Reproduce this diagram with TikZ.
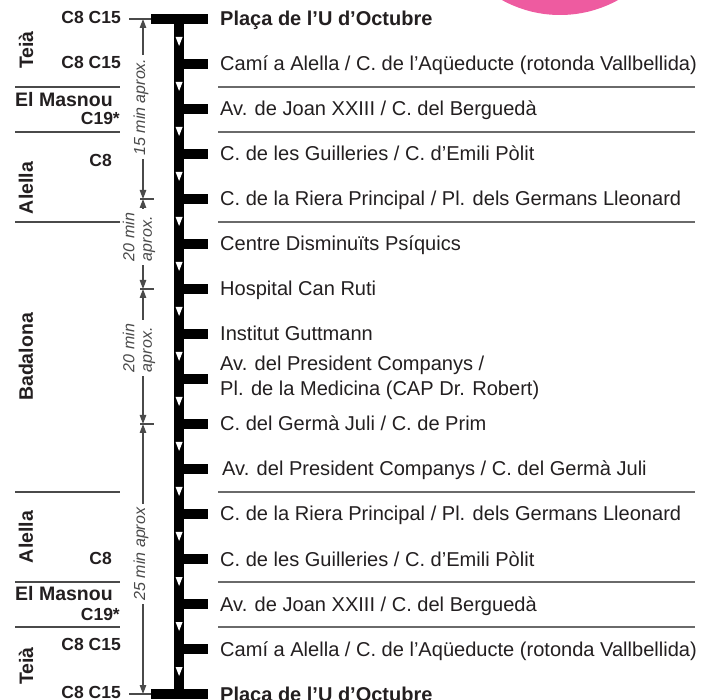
\documentclass[tikz,border=0pt]{standalone}
\usepackage{fontspec}
\setmainfont{Liberation Sans}
\usetikzlibrary{arrows.meta}
\definecolor{badgepink}{HTML}{EE5BA0}
\definecolor{txt}{HTML}{231F20}
\definecolor{sepgray}{HTML}{6A6A6A}
\definecolor{dimgray}{HTML}{4A4A4A}
\tikzset{
  stoplbl/.style={anchor=base west, inner sep=0pt, text=txt, font=\fontsize{20.05}{25}\selectfont},
  stopbold/.style={stoplbl, font=\bfseries\fontsize{20}{25}\selectfont},
  townlbl/.style={rotate=90, inner sep=0pt, text=txt, font=\bfseries\fontsize{19.5}{24}\selectfont},
  masnoulbl/.style={anchor=west, inner sep=0pt, text=txt, font=\bfseries\fontsize{19.5}{24}\selectfont},
  linelbl/.style={anchor=east, inner sep=0pt, text=txt, font=\bfseries\fontsize{17.5}{20}\selectfont},
  durlbl/.style={rotate=90, fill=white, inner xsep=4pt, inner ysep=0.5pt, align=left, text=dimgray, font=\itshape\fontsize{16}{17.5}\selectfont},
  rsep/.style={draw=sepgray, line width=1.6pt},
  lsep/.style={draw=dimgray, line width=1.2pt},
  dimline/.style={draw=dimgray, line width=1.1pt, {Triangle[width=6.5pt,length=9pt]}-{Triangle[width=6.5pt,length=9pt]}},
  tickline/.style={draw=dimgray, line width=1.1pt},
  spineline/.style={draw=black, line width=10pt},
  dirmark/.style={fill=white, draw=none}
}
\begin{document}
\begin{tikzpicture}[x=1pt, y=-1pt]
\useasboundingbox (0,0) rectangle (702,700);

% pink badge
\fill[badgepink] (560,-105) circle (120);

% spine and stops
\foreach \i in {0,...,15} {
  \coordinate (s\i) at (179,{19+45*\i});
  \coordinate (e\i) at (208,{19+45*\i});
}
\coordinate (tl) at (151,19);
\coordinate (bl) at (151,694);
\draw[spineline] (tl) -- (e0);
\draw[spineline] (bl) -- (e15);
\draw[spineline] ([yshift=5pt]s0) -- ([yshift=-5pt]s15);
\foreach \i in {1,...,14} { \draw[spineline] (s\i) -- (e\i); }

% direction marks
\foreach \i in {0,...,14} {
  \pgfmathsetmacro{\ym}{19+45*\i+22.5}
  \fill[dirmark] (175.6,\ym-4.5) -- (182.6,\ym-4.5) -- (179.1,\ym+4.5) -- cycle;
}

% separators
\foreach \y in {87,132,222,492,582,627} {
  \draw[rsep] (218,\y) -- (695,\y);
  \draw[lsep] (15,\y) -- (120,\y);
}

% stop labels
\node[stopbold] (t0) at (220,26) {Plaça de l’U d’Octubre};
\node[stoplbl] (t1) at (220,71) {Camí a Alella / C. de l’Aqüeducte (rotonda Vallbellida)};
\node[stoplbl] (t2) at (220,116) {Av. de Joan XXIII / C. del Berguedà};
\node[stoplbl] (t3) at (220,161) {C. de les Guilleries / C. d’Emili Pòlit};
\node[stoplbl] (t4) at (220,206) {C. de la Riera Principal / Pl. dels Germans Lleonard};
\node[stoplbl] (t5) at (220,251) {Centre Disminuïts Psíquics};
\node[stoplbl] (t6) at (220,296) {Hospital Can Ruti};
\node[stoplbl] (t7) at (220,341) {Institut Guttmann};
\node[anchor=west, inner sep=0pt, text=txt, align=left, font=\fontsize{20.05}{25}\selectfont] (t8) at (220,378) {Av. del President Companys /\\Pl. de la Medicina (CAP Dr. Robert)};
\node[stoplbl] (t9) at (220,431) {C. del Germà Juli / C. de Prim};
\node[stoplbl] (t10) at (222,476) {Av. del President Companys / C. del Germà Juli};
\node[stoplbl] (t11) at (220,521) {C. de la Riera Principal / Pl. dels Germans Lleonard};
\node[stoplbl] (t12) at (220,566) {C. de les Guilleries / C. d’Emili Pòlit};
\node[stoplbl] (t13) at (220,611) {Av. de Joan XXIII / C. del Berguedà};
\node[stoplbl] (t14) at (220,656) {Camí a Alella / C. de l’Aqüeducte (rotonda Vallbellida)};
\node[stopbold] (t15) at (220,701) {Plaça de l’U d’Octubre};

% left: towns
\node[townlbl] (teia1) at (26,50) {Teià};
\node[masnoulbl] (mas1) at (15,100) {El Masnou};
\node[townlbl] (ale1) at (26,188) {Alella};
\node[townlbl] (bad) at (26,357) {Badalona};
\node[townlbl] (ale2) at (26,537) {Alella};
\node[masnoulbl] (mas2) at (15,594) {El Masnou};
\node[townlbl] (teia2) at (26,666) {Teià};

% left: lines
\node[linelbl] (l1) at (121,17.5) {C8 C15};
\node[linelbl] (l2) at (121,62.5) {C8 C15};
\node[linelbl] (l3) at (120,118) {C19*};
\node[linelbl] (l4) at (112,160) {C8};
\node[linelbl] (l5) at (112,558) {C8};
\node[linelbl] (l6) at (120,614) {C19*};
\node[linelbl] (l7) at (121,644) {C8 C15};
\node[linelbl] (l8) at (121,692) {C8 C15};

% durations
\coordinate (d0) at (143,19);
\coordinate (d1) at (143,199);
\coordinate (d2) at (143,289);
\coordinate (d3) at (143,424);
\coordinate (d4) at (143,694);
\coordinate (x0) at (129,19);
\coordinate (x4) at (129,694);
\draw[tickline] (x0) -- (tl);
\draw[tickline] (x4) -- (bl);
\foreach \k in {1,2,3} { \draw[tickline] ([xshift=-3pt]d\k) -- ([xshift=11pt]d\k); }
\draw[dimline] (d0) -- (d1);
\draw[dimline] (d1) -- (d2);
\draw[dimline] (d2) -- (d3);
\draw[dimline] (d3) -- (d4);
\node[durlbl] (m1) at (141,107) {15 min aprox.};
\node[durlbl] (m2) at (139,237) {20 min\\aprox.};
\node[durlbl] (m3) at (139,348) {20 min\\aprox.};
\node[durlbl] (m4) at (141,554) {25 min aprox};
\end{tikzpicture}
\end{document}
